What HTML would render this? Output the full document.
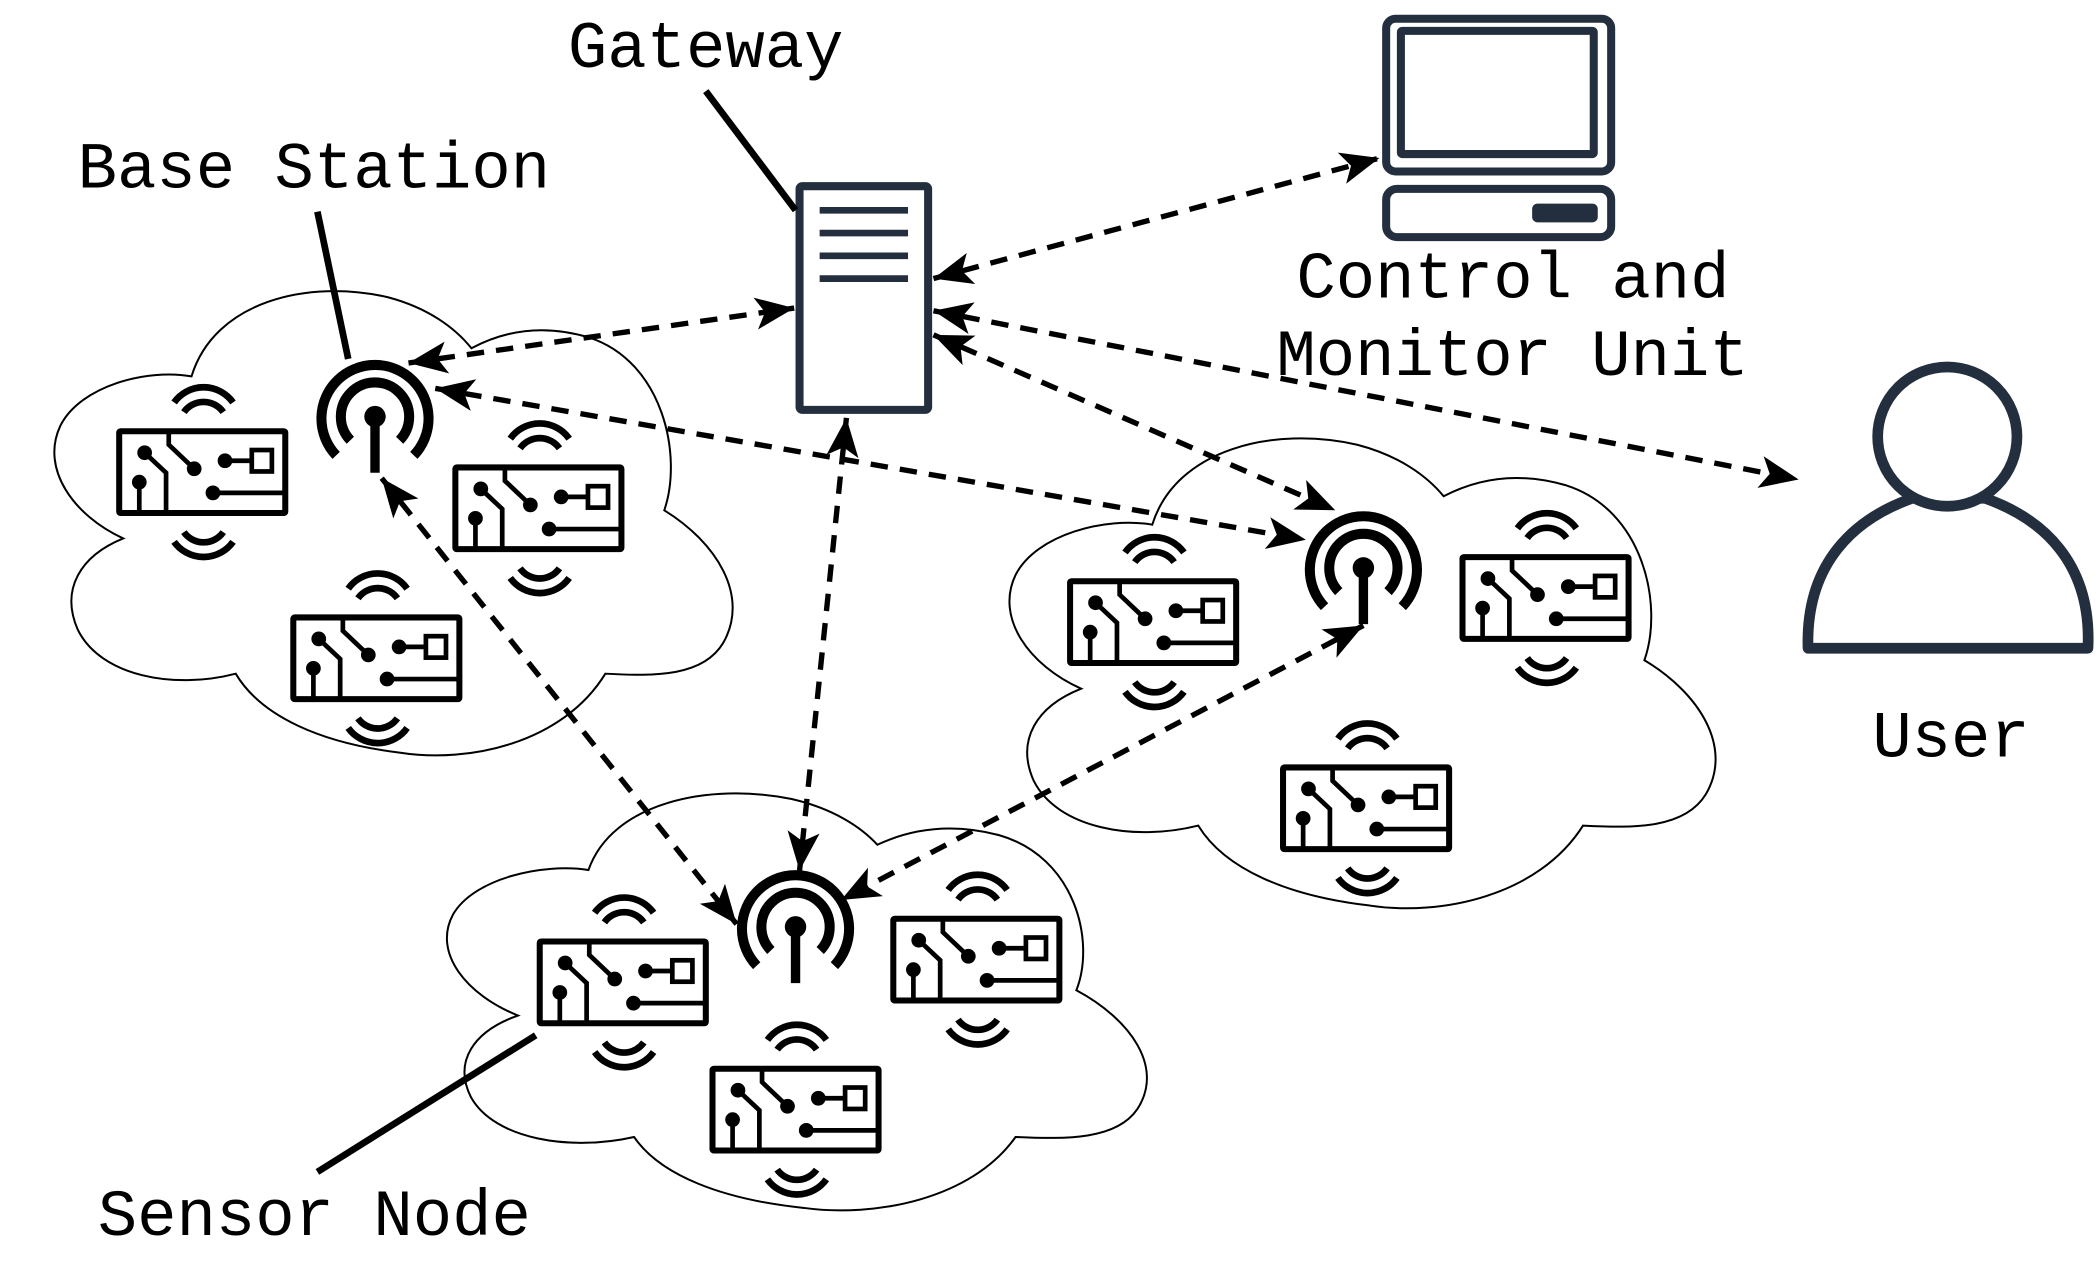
<!DOCTYPE html>
<html><head><meta charset="utf-8"><style>
html,body{margin:0;padding:0;background:#fff;}
svg{display:block;}
text{font-family:"Liberation Mono","DejaVu Sans Mono",monospace;font-size:49px;fill:#000;}
</style></head><body>
<svg width="2100" height="1263" viewBox="0 0 1568 943" xmlns="http://www.w3.org/2000/svg">
<defs>
<marker id="ar" viewBox="0 0 10 10" refX="9" refY="5" markerWidth="10" markerHeight="10" markerUnits="userSpaceOnUse" orient="auto-start-reverse" style="overflow:visible">
<path d="M-20,-7 L9,5 L-20,17 L-13,5 Z" fill="#000"/>
</marker>
<path id="cloud" d="M143,281 C160,225 230,208 290,222 C320,230 340,245 352,260 C380,245 410,243 440,252 C495,270 510,340 496,381 C535,405 560,445 540,480 C525,505 490,505 452,503 C420,555 350,570 299,562 C240,555 195,535 176,503 C130,515 75,505 58,470 C45,440 60,415 92,402 C55,385 30,350 45,318 C60,288 110,275 143,281 Z" fill="#fff" stroke="#000" stroke-width="2" vector-effect="non-scaling-stroke"/>
<g id="sn">
<path d="M43,-19.5 A27,27 0 0 1 87,-19.5 M50.3,-12.3 A18,18 0 0 1 79.7,-12.3" fill="none" stroke="#000" stroke-width="5"/>
<path d="M43,84.5 A27,27 0 0 0 87,84.5 M50.3,77.3 A18,18 0 0 0 79.7,77.3" fill="none" stroke="#000" stroke-width="5"/>
<rect x="2" y="2" width="124" height="61" fill="#fff" stroke="#000" stroke-width="4.5" rx="1"/>
<g stroke="#000" stroke-width="3.5" fill="none">
<path d="M17,40 V63"/>
<path d="M21,18 L37,33 V63"/>
<path d="M39,2 V12 L58,30"/>
<path d="M81,24 H100"/>
<rect x="101" y="16" width="15" height="16"/>
<path d="M72,48 H126"/>
</g>
<g fill="#000">
<circle cx="17" cy="40" r="5.5"/><circle cx="21" cy="18" r="5.5"/><circle cx="58" cy="30" r="5.5"/><circle cx="81" cy="24" r="5.5"/><circle cx="72" cy="48" r="5.5"/>
</g>
</g>
<g id="bs">
<path d="M-18.4,17.7 A25.5,25.5 0 1 1 18.4,17.7" fill="none" stroke="#000" stroke-width="7.5"/>
<path d="M-29,29 A40,40 0 1 1 29,29" fill="none" stroke="#000" stroke-width="7.5"/>
<circle cx="0" cy="0" r="8" fill="#000"/>
<path d="M0,0 V42" stroke="#000" stroke-width="7"/>
</g>
</defs>

<use href="#cloud"/>
<use href="#cloud" transform="translate(750,328) scale(1.041,1.012) translate(-37,-218)"/>
<use href="#cloud" transform="translate(330,593) scale(1.032,0.898) translate(-37,-218)"/>

<use href="#sn" x="87" y="320"/>
<use href="#sn" x="338" y="347"/>
<use href="#sn" x="217" y="459"/>
<use href="#sn" x="797" y="432"/>
<use href="#sn" x="1090" y="414"/>
<use href="#sn" x="956" y="571"/>
<use href="#sn" x="401" y="701"/>
<use href="#sn" x="665" y="684"/>
<use href="#sn" x="530" y="796"/>

<use href="#bs" x="280" y="311"/>
<use href="#bs" x="1018" y="424"/>
<use href="#bs" x="594" y="692"/>

<rect x="597" y="139" width="96" height="167" rx="2" fill="#fff" stroke="#232f3e" stroke-width="6"/>
<g stroke="#232f3e" stroke-width="5"><path d="M612,157H678M612,174H678M612,191H678M612,208H678"/></g>

<rect x="1035" y="14" width="168" height="114" rx="7" fill="#fff" stroke="#232f3e" stroke-width="6"/>
<rect x="1046" y="23" width="144" height="92" rx="1" fill="none" stroke="#232f3e" stroke-width="6"/>
<rect x="1035" y="141" width="168" height="36" rx="8" fill="#fff" stroke="#232f3e" stroke-width="6"/>
<rect x="1144" y="152" width="49" height="14" rx="4" fill="#232f3e"/>

<path d="M1350,484 C1348,420 1385,387 1428,372 L1482,372 C1525,387 1562,420 1559,484 Z" fill="#fff" stroke="#232f3e" stroke-width="8" stroke-linejoin="round"/>
<circle cx="1454" cy="326" r="52" fill="#fff" stroke="#232f3e" stroke-width="8"/>

<g stroke="#000" stroke-width="4" stroke-dasharray="13 9" fill="none" marker-start="url(#ar)" marker-end="url(#ar)">
<path d="M305,271 L593,230"/>
<path d="M325,290 L975,403"/>
<path d="M697,208 L1030,118"/>
<path d="M697,232 L1343,358"/>
<path d="M697,250 L997,381"/>
<path d="M632,312 L597,650"/>
<path d="M285,357 L550,690"/>
<path d="M1018,467 L628,672"/>
</g>

<g stroke="#000" stroke-width="5" fill="none">
<path d="M237,158 L260,268"/>
<path d="M527,68 L594,157"/>
<path d="M237,875 L400,773"/>
</g>

<text x="424" y="50">Gateway</text>
<text x="58" y="140">Base Station</text>
<text x="968" y="222">Control and</text>
<text x="953" y="280">Monitor Unit</text>
<text x="1398" y="565">User</text>
<text x="73" y="922">Sensor Node</text>
</svg>
</body></html>
